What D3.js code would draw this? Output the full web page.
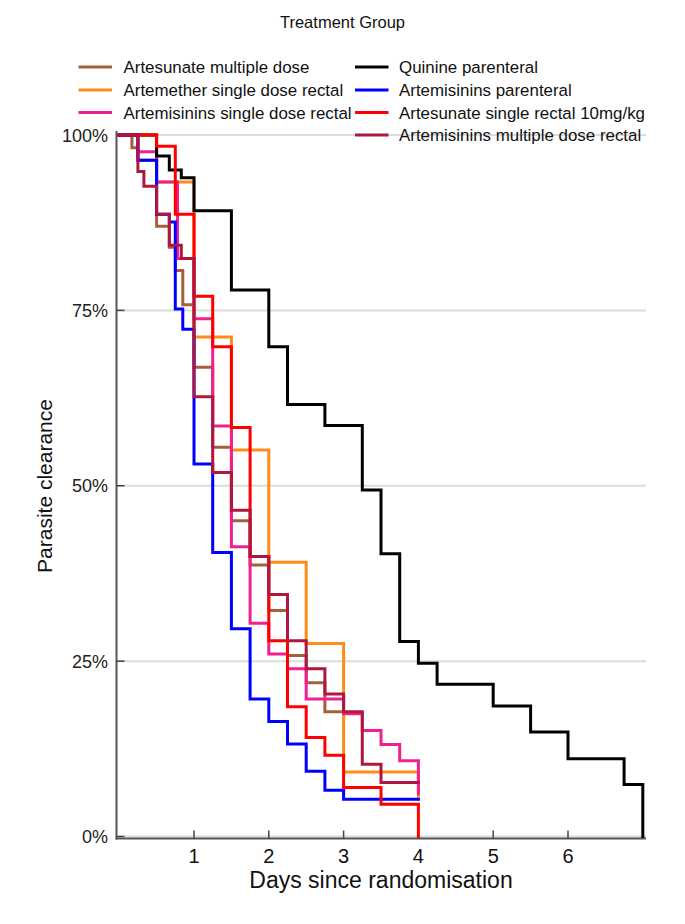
<!DOCTYPE html>
<html>
<head>
<meta charset="utf-8">
<script src="https://cdn.jsdelivr.net/npm/d3@7"></script>
<style>
  html, body { margin: 0; padding: 0; background: #fff; }
  svg { display: block; font-family: "Liberation Sans", Arial, Helvetica, sans-serif; }
</style>
</head>
<body>
<svg id="chart" width="685" height="924"></svg>
<script>
// ---- Data ----
const seriesNames = [
  "Artesunate multiple dose",
  "Artemether single dose rectal",
  "Artemisinins single dose rectal",
  "Quinine parenteral",
  "Artemisinins parenteral",
  "Artesunate single rectal 10mg/kg",
  "Artemisinins multiple dose rectal"
];
const seriesColors = ["#a65e3c", "#ff8c1a", "#f21f8f", "#000000", "#0000ff", "#ff0000", "#b0173f"];

// Kaplan-Meier step points: time (days) and % still parasitaemic
const brownTimes   = [0, 0.17, 0.25, 0.5, 0.67, 0.75, 0.85, 1.0, 1.25, 1.5, 1.75, 2.0, 2.25, 2.5, 2.75, 3.0];
const brownValues  = [100, 98.2, 96.4, 87.0, 84.0, 80.7, 75.8, 66.9, 55.5, 45.0, 38.7, 32.2, 25.8, 21.9, 17.8, 17.8];

const orangeTimes  = [0, 0.5, 1.0, 1.5, 2.0, 2.5, 3.0, 4.0];
const orangeValues = [100, 93.3, 71.2, 55.1, 39.1, 27.5, 9.2, 5.6];

const pinkTimes    = [0, 0.25, 0.5, 0.78, 1.0, 1.25, 1.5, 1.75, 2.0, 2.25, 2.5, 3.0, 3.25, 3.5, 3.75, 4.0];
const pinkValues   = [100, 97.6, 93.3, 82.4, 73.8, 58.5, 41.3, 30.4, 26.0, 23.9, 19.6, 17.5, 15.1, 13.1, 10.8, 6.1];

const blackTimes   = [0, 0.5, 0.67, 0.83, 1.0, 1.5, 2.0, 2.25, 2.75, 3.25, 3.5, 3.75, 4.0, 4.25, 5.0, 5.5, 6.0, 6.75, 7.0];
const blackValues  = [100, 97.0, 95.0, 93.9, 89.2, 77.9, 69.8, 61.6, 58.6, 49.4, 40.3, 27.8, 24.7, 21.7, 18.6, 14.9, 11.1, 7.4, 0];

const blueTimes    = [0, 0.25, 0.5, 0.67, 0.75, 0.85, 1.0, 1.25, 1.5, 1.75, 2.0, 2.25, 2.5, 2.75, 3.0, 4.0];
const blueValues   = [100, 96.4, 88.7, 87.6, 75.2, 72.3, 53.1, 40.5, 29.6, 19.6, 16.4, 13.2, 9.3, 6.6, 5.3, 5.3];

const redTimes     = [0, 0.5, 0.75, 1.0, 1.25, 1.5, 1.75, 2.0, 2.25, 2.5, 2.75, 3.0, 3.5, 4.0];
const redValues    = [100, 98.4, 88.7, 77.0, 69.8, 58.3, 39.9, 27.9, 18.5, 14.1, 11.6, 7.0, 4.6, 0];

const crimsonTimes  = [0, 0.25, 0.33, 0.5, 0.67, 0.83, 1.0, 1.25, 1.5, 1.75, 2.0, 2.25, 2.5, 2.75, 3.0, 3.25, 3.5, 4.0];
const crimsonValues = [100, 94.8, 92.7, 88.7, 84.3, 82.4, 62.7, 51.9, 46.5, 39.9, 34.5, 27.9, 23.9, 20.3, 17.8, 10.3, 7.7, 7.7];

const xTicks = [1, 2, 3, 4, 5, 6];
const yTicks = [0, 25, 50, 75, 100];
const yTickLabels = ["0%", "25%", "50%", "75%", "100%"];

const legendTitle = "Treatment Group";
const xTitle = "Days since randomisation";
const yTitle = "Parasite clearance";

// ---- Build ----
const allTimes = [brownTimes, orangeTimes, pinkTimes, blackTimes, blueTimes, redTimes, crimsonTimes];
const allValues = [brownValues, orangeValues, pinkValues, blackValues, blueValues, redValues, crimsonValues];
const series = seriesNames.map((name, i) => ({
  name, color: seriesColors[i],
  points: allTimes[i].map((t, j) => ({ t, v: allValues[i][j] }))
}));

const svg = d3.select("#chart");
const x = d3.scaleLinear().domain([0, 7]).range([119.2, 642.8]);
const y = d3.scaleLinear().domain([0, 100]).range([836.5, 135]);
const axisLeftX = 116.5, axisBottomY = 838.5, plotRight = 646;

// gridlines
svg.append("g").selectAll("line").data(yTicks).join("line")
  .attr("x1", axisLeftX).attr("x2", plotRight)
  .attr("y1", d => y(d)).attr("y2", d => y(d))
  .attr("stroke", "#dcdcdc").attr("stroke-width", 2);

// axis lines
svg.append("line").attr("x1", axisLeftX).attr("x2", axisLeftX)
  .attr("y1", 131).attr("y2", axisBottomY + 1)
  .attr("stroke", "#555").attr("stroke-width", 2);
svg.append("line").attr("x1", axisLeftX - 1).attr("x2", plotRight)
  .attr("y1", axisBottomY).attr("y2", axisBottomY)
  .attr("stroke", "#555").attr("stroke-width", 2);

// y ticks (inward) and labels
svg.append("g").selectAll("line").data(yTicks).join("line")
  .attr("x1", axisLeftX).attr("x2", axisLeftX + 8)
  .attr("y1", d => y(d)).attr("y2", d => y(d))
  .attr("stroke", "#444").attr("stroke-width", 1.5);
svg.append("g").selectAll("text").data(yTicks).join("text")
  .attr("x", 108).attr("y", d => y(d) + 6.5)
  .attr("text-anchor", "end").attr("font-size", 18).attr("fill", "#222")
  .text((d, i) => yTickLabels[i]);

// x ticks (inward) and labels
svg.append("g").selectAll("line").data(xTicks).join("line")
  .attr("x1", d => x(d)).attr("x2", d => x(d))
  .attr("y1", axisBottomY).attr("y2", axisBottomY - 8)
  .attr("stroke", "#444").attr("stroke-width", 1.5);
svg.append("g").selectAll("text").data(xTicks).join("text")
  .attr("x", d => x(d)).attr("y", 863)
  .attr("text-anchor", "middle").attr("font-size", 20).attr("fill", "#111")
  .text(d => d);

// axis titles
svg.append("text").attr("x", 381).attr("y", 888)
  .attr("text-anchor", "middle").attr("font-size", 23).attr("fill", "#111")
  .text(xTitle);
svg.append("text")
  .attr("transform", "translate(52,486) rotate(-90)")
  .attr("text-anchor", "middle").attr("font-size", 21).attr("fill", "#111")
  .text(yTitle);

// curves
const line = d3.line().x(d => x(d.t)).y(d => y(d.v)).curve(d3.curveStepAfter);
svg.append("g").selectAll("path").data(series).join("path")
  .attr("d", d => line(d.points))
  .attr("fill", "none").attr("stroke", d => d.color)
  .attr("stroke-width", 3).attr("stroke-linejoin", "miter").attr("stroke-linecap", "square");

// legend
svg.append("text").attr("x", 342.5).attr("y", 27.5)
  .attr("text-anchor", "middle").attr("font-size", 16.5).attr("fill", "#111")
  .text(legendTitle);
const legendRowsY = [67, 90, 112.5, 135];
const legendItems = series.map((s, i) => {
  const col = i < 3 ? 0 : 1;
  const row = i < 3 ? i : i - 3;
  return { ...s, col, row };
});
const colLineX = [78.5, 355];
const colTextX = [123.5, 399];
const lg = svg.append("g").selectAll("g").data(legendItems).join("g");
lg.append("line")
  .attr("x1", d => colLineX[d.col]).attr("x2", d => colLineX[d.col] + 33.5)
  .attr("y1", d => legendRowsY[d.row]).attr("y2", d => legendRowsY[d.row])
  .attr("stroke", d => d.color).attr("stroke-width", 3);
lg.append("text")
  .attr("x", d => colTextX[d.col]).attr("y", d => legendRowsY[d.row] + 6)
  .attr("font-size", 16.9).attr("fill", "#111")
  .text(d => d.name);
</script>
</body>
</html>
